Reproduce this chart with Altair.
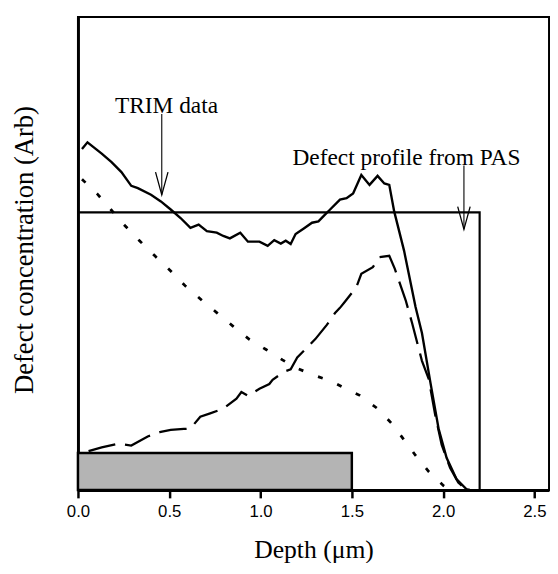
import altair as alt
import pandas as pd

# ---- data (x in micrometres, y in arbitrary units 0-100) ----
solid_x = [0.022, 0.052, 0.130, 0.184, 0.238, 0.292, 0.328, 0.400, 0.454, 0.508, 0.562, 0.616,
           0.661, 0.706, 0.760, 0.796, 0.832, 0.889, 0.931, 0.994, 1.039, 1.075, 1.111, 1.138,
           1.165, 1.192, 1.237, 1.282, 1.317, 1.345, 1.381, 1.435, 1.471, 1.507, 1.552, 1.597,
           1.641, 1.678, 1.705, 1.732, 1.786, 1.849, 1.884, 1.930, 1.975, 2.019, 2.073, 2.127, 2.146]
solid_y = [72.1, 73.5, 71.1, 69.3, 67.2, 64.3, 63.8, 62.4, 61.0, 59.3, 57.5, 55.4,
           56.1, 54.7, 54.4, 53.7, 53.2, 54.4, 52.5, 52.5, 51.6, 52.8, 52.1, 52.7,
           52.0, 54.1, 55.3, 56.5, 56.8, 57.9, 59.3, 61.4, 61.7, 62.7, 66.6, 64.5,
           66.4, 64.8, 64.5, 58.9, 50.6, 38.7, 33.2, 22.8, 13.0, 6.8, 2.3, 0.2, 0.0]

dashed_x = [0.058, 0.130, 0.220, 0.292, 0.382, 0.454, 0.508, 0.580, 0.616, 0.670, 0.724, 0.796,
            0.868, 0.895, 0.931, 0.994, 1.048, 1.066, 1.129, 1.165, 1.201, 1.300, 1.363, 1.408,
            1.435, 1.462, 1.525, 1.552, 1.615, 1.651, 1.705, 1.735, 1.795, 1.830, 1.884, 1.921,
            1.957, 1.992, 2.038, 2.083, 2.126]
dashed_y = [8.2, 9.0, 9.8, 9.4, 11.3, 12.3, 12.7, 12.9, 13.0, 15.5, 16.2, 17.2,
            19.3, 20.7, 19.9, 21.4, 22.4, 23.3, 25.0, 25.5, 28.0, 31.9, 34.9, 37.4,
            38.5, 39.8, 42.9, 45.7, 47.1, 49.2, 49.5, 46.8, 40.1, 35.3, 27.3, 23.5,
            15.8, 9.6, 4.7, 1.6, 0.1]

dotted_x = [0.022, 0.108, 0.180, 0.259, 0.337, 0.421, 0.508, 0.589, 0.679, 0.763, 0.850, 0.940,
            1.030, 1.120, 1.201, 1.290, 1.381, 1.462, 1.543, 1.641, 1.722, 1.786, 1.849, 1.921,
            2.002, 2.034]
dotted_y = [65.7, 62.5, 59.3, 55.8, 52.7, 49.5, 46.3, 43.1, 40.1, 37.4, 34.6, 31.8,
            29.7, 27.5, 25.7, 24.3, 23.1, 21.5, 20.0, 17.2, 13.9, 10.6, 7.3, 3.9,
            0.9, 0.1]

pas_x = [0.0, 2.2, 2.2]
pas_y = [58.7, 58.7, 0.0]

implant_x = [0.0, 1.5]
implant_y = [0.0, 7.8]

label_text = ["TRIM data", "Defect profile from PAS"]
label_x = [0.485, 1.799]
label_y = [79.8, 68.7]

arrow_x = [0.459, 2.114]
arrow_y_start = [79.5, 68.6]
arrow_y_end = [62.4, 55.1]

x_ticks = [0.0, 0.5, 1.0, 1.5, 2.0, 2.5]

# ---- tables ----
solid = pd.DataFrame({"x": solid_x, "y": solid_y, "o": range(len(solid_x))})
dashed = pd.DataFrame({"x": dashed_x, "y": dashed_y, "o": range(len(dashed_x))})
dotted = pd.DataFrame({"x": dotted_x, "y": dotted_y, "o": range(len(dotted_x))})
pas = pd.DataFrame({"x": pas_x, "y": pas_y, "o": range(len(pas_x))})
implant = pd.DataFrame({"x": [implant_x[0]], "x2": [implant_x[1]],
                        "y": [implant_y[0]], "y2": [implant_y[1]]})
labels = pd.DataFrame({"t": label_text, "x": label_x, "y": label_y})
arrows = pd.DataFrame({"x": arrow_x, "y": arrow_y_start, "y2": arrow_y_end})

xs = alt.Scale(domain=[0, 2.58], nice=False, zero=False)
ys = alt.Scale(domain=[0, 100], nice=False)

X = alt.X("x:Q", scale=xs,
          axis=alt.Axis(values=x_ticks, format=".1f", title="Depth (μm)", grid=False,
                        labelFont="Liberation Sans", labelFontSize=17, labelColor="black",
                        labelFlush=False, labelOverlap=False,
                        tickSize=8, tickWidth=2.5, tickColor="black",
                        domainWidth=3, domainColor="black", labelPadding=6,
                        titleFont="Liberation Serif", titleFontSize=26,
                        titleFontWeight="normal", titleColor="black", titlePadding=18))
Y = alt.Y("y:Q", scale=ys,
          axis=alt.Axis(title="Defect concentration (Arb)", labels=False, ticks=False,
                        grid=False, domainWidth=3, domainColor="black",
                        titleFont="Liberation Serif", titleFontSize=27,
                        titleFontWeight="normal", titleColor="black",
                        titleX=-54, titleY=236, titleAngle=270,
                        titleBaseline="middle", titleAlign="center"))

rect = alt.Chart(implant).mark_rect(fill="#b4b4b4", stroke="black", strokeWidth=2.5).encode(
    x=alt.X("x:Q", scale=xs), x2="x2:Q", y=alt.Y("y:Q", scale=ys), y2="y2:Q")

base_line = dict(color="black", strokeCap="butt")
solid_l = alt.Chart(solid).mark_line(strokeWidth=2.4, **base_line).encode(x=X, y=Y, order="o:Q")
dashed_l = alt.Chart(dashed).mark_line(strokeWidth=2.3, strokeDash=[28, 10], **base_line).encode(
    x=alt.X("x:Q", scale=xs), y=alt.Y("y:Q", scale=ys), order="o:Q")
dotted_l = alt.Chart(dotted).mark_line(strokeWidth=2.8, strokeDash=[5, 16], **base_line).encode(
    x=alt.X("x:Q", scale=xs), y=alt.Y("y:Q", scale=ys), order="o:Q")
pas_l = alt.Chart(pas).mark_line(strokeWidth=2.2, color="black").encode(
    x=alt.X("x:Q", scale=xs), y=alt.Y("y:Q", scale=ys), order="o:Q")

shafts = alt.Chart(arrows).mark_rule(color="black", strokeWidth=1.1).encode(
    x=alt.X("x:Q", scale=xs), y=alt.Y("y:Q", scale=ys), y2="y2:Q")
heads = alt.Chart(arrows).mark_point(shape="M-0.55,-1L0,1L0.55,-1", filled=False,
                                     size=529, color="black", strokeWidth=1.3,
                                     yOffset=-11.5, opacity=1).encode(
    x=alt.X("x:Q", scale=xs), y=alt.Y("y2:Q", scale=ys))

texts = alt.Chart(labels).mark_text(font="Liberation Serif", fontSize=23.7, color="black",
                                    align="center", baseline="alphabetic").encode(
    x=alt.X("x:Q", scale=xs), y=alt.Y("y:Q", scale=ys), text="t:N")

chart = alt.layer(rect, solid_l, dashed_l, dotted_l, pas_l, shafts, heads, texts).properties(
    width=478, height=480,
    autosize=alt.AutoSizeParams(type="none"),
    padding={"left": 71, "top": 5, "right": 1, "bottom": 70},
    background="white",
).configure_view(stroke="black", strokeWidth=2)

chart.save("out.html", embed_options={"renderer": "svg", "actions": False})
